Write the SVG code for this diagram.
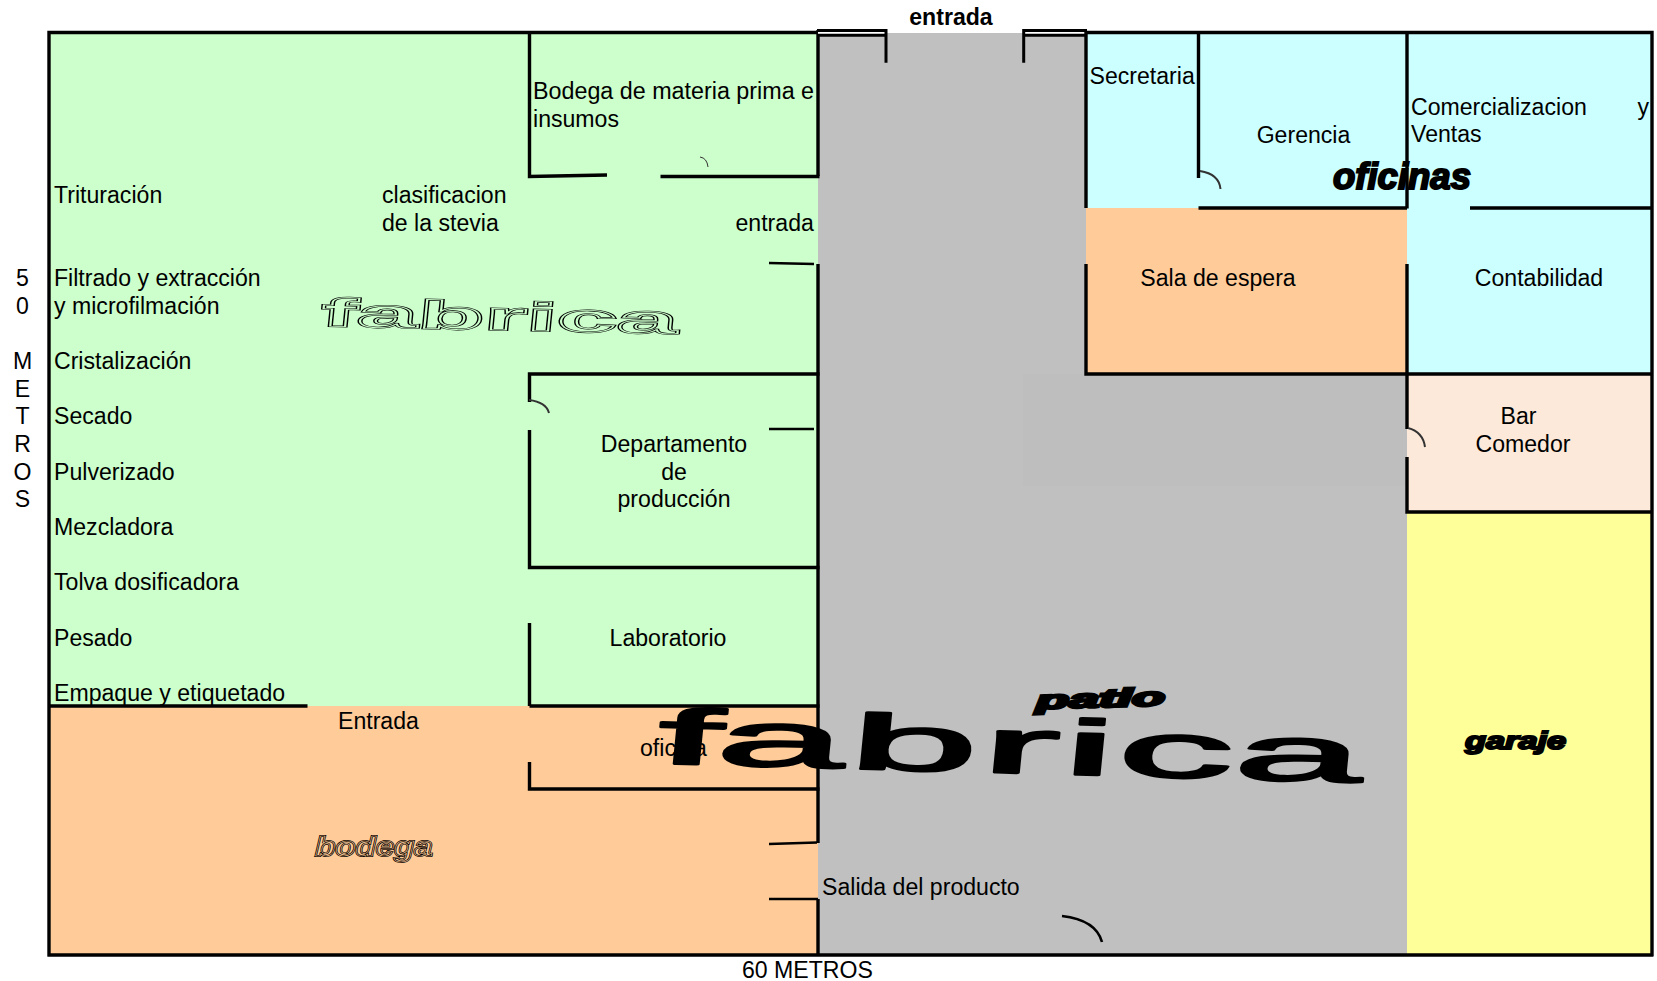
<svg xmlns="http://www.w3.org/2000/svg" xmlns:xlink="http://www.w3.org/1999/xlink" width="1657" height="981" viewBox="0 0 1657 981">
<style>
text{font-family:"Liberation Sans",Arial,sans-serif;font-size:23.1px;fill:#000}
.m{text-anchor:middle}
.w{stroke:#000;stroke-width:3.4;fill:none;stroke-linecap:butt}
.t{stroke:#000;stroke-width:2.4;fill:none}
.arc{stroke:#333;stroke-width:2;fill:none}
.wa{font-weight:bold;font-size:40px}
.heavy{stroke:#000;stroke-width:2}
</style>
<rect width="1657" height="981" fill="#fff"/>
<g id="floor">
<rect x="49" y="32" width="769" height="674" fill="#CCFFCC"/>
<rect x="49" y="706" width="769" height="249" fill="#FFCC99"/>
<rect x="818" y="33" width="268" height="922" fill="#C0C0C0"/>
<rect x="1086" y="374" width="321" height="581" fill="#C0C0C0"/>
<rect x="1023" y="374" width="384" height="112" fill="#BEBEBE"/>
<rect x="1086" y="32" width="567" height="176" fill="#CCFFFF"/>
<rect x="1086" y="208" width="321" height="166" fill="#FFCC99"/>
<rect x="1407" y="208" width="246" height="166" fill="#CCFFFF"/>
<rect x="1407" y="374" width="246" height="138" fill="#FDE9D9"/>
<rect x="1407" y="512" width="246" height="443" fill="#FFFF99"/>
</g>
<g id="connectors">
<path class="w" d="M49 32.500H818M1086 32.500H1653M49 30.800V956.500M1652 30.800V956.500M47.500 955H1653"/>
<path class="w" d="M818 30V176M818 264V843M818 899V955"/>
<path class="w" d="M529.500 32V176.500L607 175M660.500 176.500H819.500"/>
<path class="t" d="M769 263L814 264M769 429H814M769 844L817 842.500M769 899H818"/>
<path class="w" d="M529.500 402V374H819.500M529.500 430V567.500H819.500M529.500 623V706M49 706H307.500M529.500 706H819.500M529.500 762V789H819.500"/>
<rect x="818" y="32" width="68" height="2" fill="#fff"/>
<rect x="1024" y="32" width="63" height="2" fill="#fff"/>
<path class="w" style="stroke-width:3" d="M817 30.500H886V62.700M817 35.200H886M1023.700 62.700V30.500H1087M1023.700 35.200H1087"/>
<path class="w" d="M1086 32V208M1086 264V374H1407M1198.500 32V178M1198.500 208H1407M1407 32V208.500M1407 264V429M1407 457V512H1653M1407 374H1653M1470 208H1653"/>
<path class="arc" d="M1200 171Q1219 174 1220.500 189M529 400Q546 402 549 413M1408 428Q1423 432 1425 447"/>
<path class="arc" style="stroke-width:1" d="M700 157Q707 158 708 167"/>
<path class="arc" style="stroke:#000;stroke-width:2.600" d="M1062 916Q1096 920 1102 942"/>
</g>
<g id="labels" transform="translate(0 0.7)">
<g id="labels-left">
<text x="54" y="202">Trituración</text>
<text x="54" y="285">Filtrado y extracción</text>
<text x="54" y="313">y microfilmación</text>
<text x="54" y="368">Cristalización</text>
<text x="54" y="423">Secado</text>
<text x="54" y="479">Pulverizado</text>
<text x="54" y="534">Mezcladora</text>
<text x="54" y="589">Tolva dosificadora</text>
<text x="54" y="645">Pesado</text>
<text x="54" y="700">Empaque y etiquetado</text>
<text x="382" y="202">clasificacion</text>
<text x="382" y="230">de la stevia</text>
<text x="22.500" y="285" class="m">5</text>
<text x="22.500" y="313" class="m">0</text>
<text x="22.500" y="368" class="m">M</text>
<text x="22.500" y="396" class="m">E</text>
<text x="22.500" y="423" class="m">T</text>
<text x="22.500" y="451" class="m">R</text>
<text x="22.500" y="479" class="m">O</text>
<text x="22.500" y="506" class="m">S</text>
</g>
<g id="bodega-materia" style="font-size:23.3px"><text x="533" y="98" style="font-size:23.3px">Bodega de materia prima e</text><text x="533" y="126">insumos</text></g>
<g id="entrada-fabrica"><text x="735.500" y="230">entrada</text></g>
<g id="departamento"><text x="674" y="451" class="m">Departamento</text><text x="674" y="479" class="m">de</text><text x="674" y="506" class="m">producción</text></g>
<g id="laboratorio"><text x="668" y="645" class="m">Laboratorio</text></g>
<g id="entrada-bodega"><text x="338" y="728">Entrada</text></g>
<g id="oficina"><text x="640" y="755">oficina</text></g>
<g id="salida"><text x="822" y="894">Salida del producto</text></g>
<g id="metros"><text x="742" y="977">60 METROS</text></g>
<g id="entrada-top"><text x="951" y="24" class="m" style="font-weight:bold">entrada</text></g>
<g id="secretaria"><text x="1089.500" y="83">Secretaria</text></g>
<g id="gerencia"><text x="1303.500" y="142" class="m">Gerencia</text></g>
<g id="comercializacion"><text x="1411" y="114">Comercializacion</text><text x="1649" y="114" style="text-anchor:end">y</text><text x="1411" y="141">Ventas</text></g>
<g id="sala"><text x="1218" y="285" class="m">Sala de espera</text></g>
<g id="contabilidad"><text x="1539" y="285" class="m">Contabilidad</text></g>
<g id="bar"><text x="1518.500" y="423" class="m">Bar</text><text x="1523" y="451" class="m">Comedor</text></g>
</g>
<g id="wa-fabrica-verde">
<g stroke="#000" stroke-width="1.9"><text id="fab1" class="wa" style="fill:none" transform="matrix(2.72 0.06 -0.1 1 320 326)">fabrica</text></g>
<use href="#fab1" xlink:href="#fab1" stroke="#CCFFCC" stroke-width="0.8"/>
</g>
<g id="wa-bodega">
<g stroke="#000" stroke-width="1.7"><text id="bod1" class="wa" style="fill:none;font-style:italic;font-size:24px" transform="matrix(1.38 0 0 1.15 315 856)">bodega</text></g>
<use href="#bod1" xlink:href="#bod1" stroke="#FFCC99" stroke-width="0.5"/>
</g>
<g id="wa-oficinas"><text class="wa heavy" style="font-style:italic;font-size:36.500px" transform="matrix(1 0 0 1 1333 189)">oficinas</text></g>
<g id="wa-patio"><text class="wa heavy" style="font-style:italic;font-size:30px;stroke-width:3" transform="matrix(1.8 -0.05 0 0.85 1036 709)">patio</text></g>
<g id="wa-garaje"><text class="wa heavy" style="font-style:italic;font-size:24px" transform="matrix(1.43 0 0 1 1465 749)">garaje</text></g>
<g id="wa-fabrica"><text class="wa" x="3 23 68 113 140.500 159 198.500" style="font-weight:normal;font-size:78px;stroke:#000;stroke-width:2.300;stroke-linejoin:round" transform="matrix(2.95 0.08 -0.1 1 647 763)">fabrica</text></g>
</svg>
